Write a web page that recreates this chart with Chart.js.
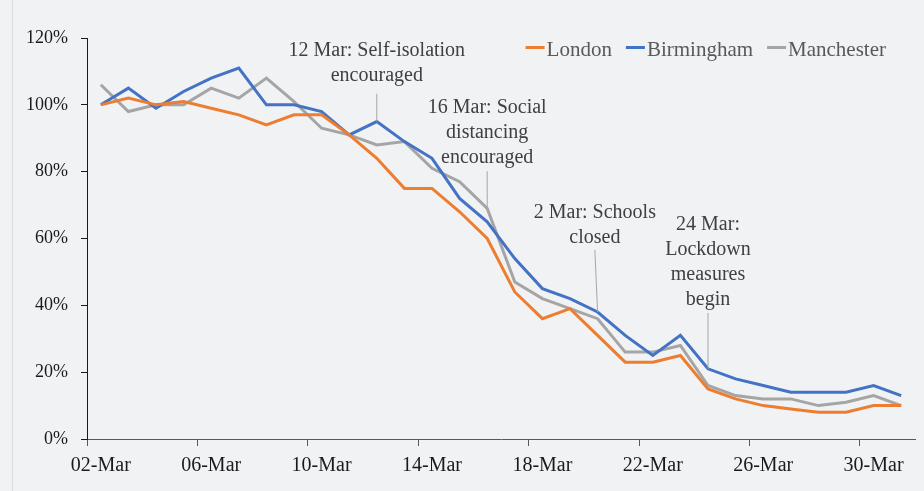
<!DOCTYPE html>
<html><head><meta charset="utf-8">
<script src="https://cdn.jsdelivr.net/npm/chart.js@4.4.1/dist/chart.umd.min.js"></script>
<style>
html,body{margin:0;padding:0;background:#f1f2f4;}
#wrap{position:relative;width:924px;height:491px;overflow:hidden;}
#edge{position:absolute;left:12px;top:0;width:1px;height:491px;background:#dcdddf;}
canvas{position:absolute;left:0;top:0;}
</style></head><body>
<div id="wrap"><div id="edge"></div><canvas id="c" width="924" height="491"></canvas></div>
<script>
const categories = ['02-Mar','03-Mar','04-Mar','05-Mar','06-Mar','07-Mar','08-Mar','09-Mar','10-Mar','11-Mar',
  '12-Mar','13-Mar','14-Mar','15-Mar','16-Mar','17-Mar','18-Mar','19-Mar','20-Mar','21-Mar',
  '22-Mar','23-Mar','24-Mar','25-Mar','26-Mar','27-Mar','28-Mar','29-Mar','30-Mar','31-Mar'];
const london     = [100,102,100,101, 99, 97, 94, 97, 97, 91, 84, 75, 75, 68, 60, 44, 36, 39, 31, 23, 23, 25, 15, 12, 10,  9,  8,  8, 10, 10];
const birmingham = [100,105, 99,104,108,111,100,100, 98, 91, 95, 89, 84, 72, 65, 54, 45, 42, 38, 31, 25, 31, 21, 18, 16, 14, 14, 14, 16, 13];
const manchester = [106, 98,100,100,105,102,108,101, 93, 91, 88, 89, 81, 77, 69, 47, 42, 39, 36, 26, 26, 28, 16, 13, 12, 12, 10, 11, 13, 10];
const seriesNames = ['London','Birmingham','Manchester'];
const seriesColors = ['#ED7D31','#4472C4','#A5A5A5'];
const yMin = 0, yMax = 120, yStep = 20;

// annotations in data coordinates (category index, value %)
const notes = [
  {lines:['12 Mar: Self-isolation','encouraged'], textAt:10, textValue:114.5, leaderAt:10, leaderTop:103.3, pointAt:10, series:birmingham},
  {lines:['16 Mar: Social','distancing','encouraged'], textAt:14, textValue:97.6, leaderAt:14, leaderTop:80.1, pointAt:14, series:manchester},
  {lines:['2 Mar: Schools','closed'], textAt:17.9, textValue:66.1, leaderAt:17.9, leaderTop:56.6, pointAt:18, series:birmingham},
  {lines:['24 Mar:','Lockdown','measures','begin'], textAt:22, textValue:62.4, leaderAt:22, leaderTop:37.7, pointAt:22, series:birmingham}
];

const FONT = '"Liberation Serif", "Times New Roman", serif';

const notePlugin = {
  id:'notes',
  afterDatasetsDraw(chart){
    const {ctx, scales:{x, y}} = chart;
    ctx.save();
    ctx.font = '20px ' + FONT;
    ctx.fillStyle = '#404040';
    ctx.textAlign = 'center';
    ctx.textBaseline = 'alphabetic';
    notes.forEach(n => {
      const tx = x.getPixelForValue(n.textAt);
      const ty = y.getPixelForValue(n.textValue);
      n.lines.forEach((l, i) => ctx.fillText(l, tx, ty + i * 25));
      ctx.beginPath();
      ctx.strokeStyle = '#a6a6a6';
      ctx.lineWidth = 1;
      ctx.moveTo(x.getPixelForValue(n.leaderAt), y.getPixelForValue(n.leaderTop));
      ctx.lineTo(x.getPixelForValue(n.pointAt), y.getPixelForValue(n.series[n.pointAt]));
      ctx.stroke();
    });
    ctx.restore();
  }
};

const legendPlugin = {
  id:'lineLegend',
  afterDraw(chart){
    const {ctx, chartArea} = chart;
    ctx.save();
    ctx.font = '21px ' + FONT;
    ctx.textBaseline = 'alphabetic';
    ctx.textAlign = 'left';
    const items = chart.data.datasets.map(d => ({label:d.label, color:d.borderColor, w:ctx.measureText(d.label).width}));
    const sample = 19, gap = 2, between = 14;
    let total = items.reduce((s, it) => s + sample + gap + it.w, 0) + between * (items.length - 1);
    let xPos = chartArea.right - 29 - total;
    const baseY = chartArea.top + 18;
    items.forEach(it => {
      ctx.fillStyle = it.color;
      ctx.fillRect(xPos, baseY - 10, sample, 3);
      ctx.fillStyle = '#595959';
      ctx.fillText(it.label, xPos + sample + gap, baseY);
      xPos += sample + gap + it.w + between;
    });
    ctx.restore();
  }
};

const datasets = [london, birmingham, manchester].map((vals, i) => ({
  label: seriesNames[i],
  data: vals,
  borderColor: seriesColors[i],
  backgroundColor: seriesColors[i],
  borderWidth: 3,
  pointRadius: 0,
  tension: 0,
  borderJoinStyle: 'miter'
}));

new Chart(document.getElementById('c'), {
  type:'line',
  data:{labels:categories, datasets},
  plugins:[notePlugin, legendPlugin],
  options:{
    responsive:false,
    animation:false,
    devicePixelRatio:1,
    layout:{padding:{top:38, right:9, left:0, bottom:0}},
    plugins:{legend:{display:false}, tooltip:{enabled:false}},
    scales:{
      x:{
        type:'category',
        offset:true,
        afterFit(s){ s.height = 52; },
        grid:{offset:true, drawOnChartArea:false, drawTicks:true, tickLength:7,
              color:(c) => (c.index % 4 === 0 ? '#595959' : 'rgba(0,0,0,0)'), lineWidth:1},
        border:{display:true, color:'#595959', width:1},
        ticks:{autoSkip:false, maxRotation:0, minRotation:0, padding:8,
               font:{family:FONT, size:20}, color:'#1a1a1a',
               callback:function(v, i){ return i % 4 === 0 ? this.getLabelForValue(v) : ''; }}
      },
      y:{
        min:yMin, max:yMax,
        afterFit(s){ s.width = 87; },
        grid:{drawOnChartArea:false, drawTicks:true, tickLength:6, color:'#1a1a1a'},
        border:{display:true, color:'#1a1a1a', width:1},
        ticks:{stepSize:yStep, padding:13, font:{family:FONT, size:18}, color:'#1a1a1a',
               callback:(v) => v + '%'}
      }
    }
  }
});
</script>
</body></html>
